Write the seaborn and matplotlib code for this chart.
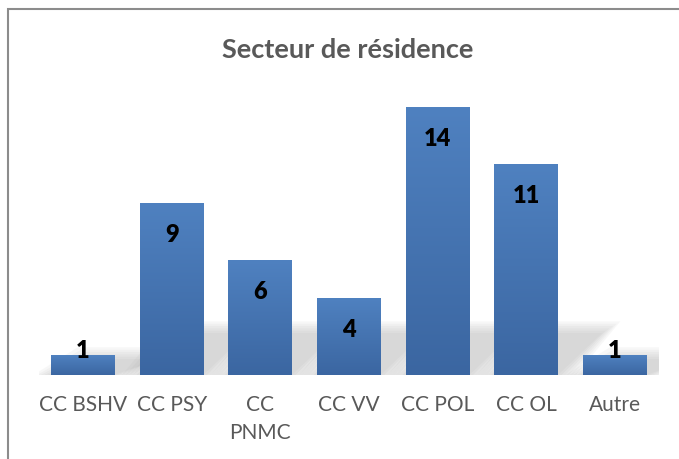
import numpy as np
import pandas as pd
import matplotlib
matplotlib.use('Agg')
import matplotlib.pyplot as plt
from matplotlib.patches import Rectangle
from matplotlib.colors import LinearSegmentedColormap
import seaborn as sns

# Données
secteurs = ['CC BSHV', 'CC PSY', 'CC\nPNMC', 'CC VV', 'CC POL', 'CC OL', 'Autre']
effectifs = [1, 9, 6, 4, 14, 11, 1]

df = pd.DataFrame({'secteur': secteurs, 'n': effectifs})

sns.set_style('white')
plt.rcParams['font.family'] = ['Lato', 'DejaVu Sans']

fig = plt.figure(figsize=(6.79, 4.6), dpi=100)
W, H = 679, 460
ax = fig.add_axes([38.6 / W, 1 - 376 / H, (659.4 - 38.6) / W, 286 / H])

sns.barplot(data=df, x='secteur', y='n', color='#4a7ab5', width=0.72, ax=ax)

# Dégradé vertical façon Excel + ombre floue
cmap = LinearSegmentedColormap.from_list('bleu', ['#3b66a1', '#4f81c0'])
grad = np.linspace(0, 1, 256).reshape(-1, 1)
for p in ax.patches:
    x0, w, h = p.get_x(), p.get_width(), p.get_height()
    sh = min(h, 2.6) * 0.85
    for k in range(6):
        d = 0.04 * k
        ax.add_patch(plt.Polygon([[x0 + w + d, 0], [x0 + w + 0.5 + d, sh + d * 3],
                                  [x0 + 0.5 - d, sh + d * 3], [x0 - d, 0]],
                                 closed=True, color='#9a9a9a', alpha=0.07, lw=0, zorder=0.5))
    ax.imshow(grad, extent=(x0, x0 + w, 0, h), origin='lower', cmap=cmap,
              aspect='auto', zorder=2)
    p.set_visible(False)

ax.set_xlim(-0.5, len(secteurs) - 0.5)
ax.set_ylim(0, 286 / 19.1)

for i, v in enumerate(effectifs):
    off = -22 if v >= 3 else 4
    ax.annotate(str(v), (i, v), xytext=(0, off), textcoords='offset points',
                ha='center', va='center', fontsize=17, fontweight='heavy',
                color='black', zorder=5)

ax.set_xlabel('')
ax.set_ylabel('')
ax.set_yticks([])
ax.tick_params(axis='x', length=0, pad=14, labelsize=15, labelcolor='#595959')
for t in ax.get_xticklabels():
    t.set_linespacing(1.5)
sns.despine(ax=ax, left=True, top=True, right=True, bottom=True)

fig.text(348 / W, 1 - 50 / H, 'Secteur de résidence', ha='center', va='center',
         fontsize=19.5, fontweight='bold', color='#595959')

# Cadre du graphique
fig.patches.append(Rectangle((8 / W, -0.05), 1.0, 1 - 10 / H + 0.05,
                             transform=fig.transFigure, fill=False,
                             edgecolor='#8c8c8c', lw=1.5))

fig.savefig('out.png', dpi=100)
